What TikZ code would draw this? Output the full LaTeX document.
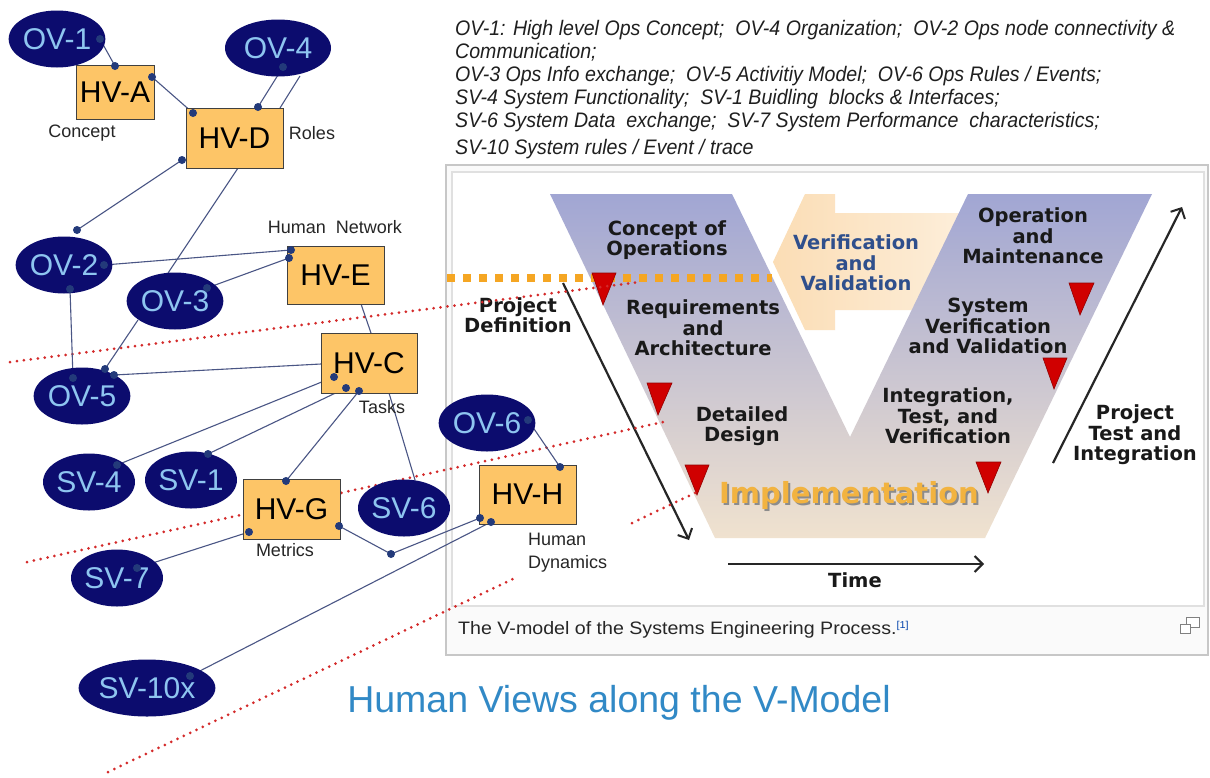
\documentclass[tikz,border=0pt]{standalone}
\usepackage{fontspec}
\setmainfont{Liberation Sans}
\newfontfamily\vfont{DejaVu Sans}
\newfontfamily\nfont{Liberation Sans}[FakeStretch=0.932]
\newfontfamily\cfont{Liberation Sans}[FakeStretch=1.09]
\usetikzlibrary{arrows.meta,shapes.geometric}
\definecolor{navy}{HTML}{0C0C6E}
\definecolor{ovtext}{HTML}{8EC5F0}
\definecolor{hvfill}{HTML}{FDC567}
\definecolor{connc}{HTML}{4A5685}
\definecolor{dotc}{HTML}{233A7A}
\definecolor{vtop}{HTML}{A1A6D3}
\definecolor{vmid}{HTML}{C9C2D3}
\definecolor{vbot}{HTML}{F0E2CF}
\definecolor{peachA}{HTML}{FBDDB5}
\definecolor{peachB}{HTML}{FDF0DE}
\definecolor{vvblue}{HTML}{2F4F8C}
\definecolor{tri}{HTML}{D00000}
\definecolor{titleblue}{HTML}{3189C6}
\definecolor{orangedot}{HTML}{F5A623}
\definecolor{reddot}{HTML}{D42A2A}
\definecolor{gold}{HTML}{F2B340}
\definecolor{linkblue}{HTML}{0645AD}
\tikzset{
  ov/.style={ellipse, fill=navy, text=ovtext, inner sep=0pt, minimum width=88pt, minimum height=57pt, font=\fontsize{30}{30}\selectfont},
  hv/.style={rectangle, fill=hvfill, draw=black!75, line width=0.8pt, inner sep=0pt, font=\fontsize{30}{30}\selectfont},
  lbl/.style={font=\fontsize{18}{23}\selectfont, text=black!85, inner sep=0pt},
  conn/.style={draw=connc, line width=1.1pt},
  dotn/.style={circle, fill=dotc, inner sep=0pt, minimum size=8pt},
  reddots/.style={draw=reddot, line width=3pt, dash pattern=on 0pt off 7pt, line cap=round},
  vlab/.style={font=\vfont\bfseries\fontsize{19.5}{20.5}\selectfont, align=center, text=black!90, inner sep=0pt},
  tritri/.style={fill=tri, draw=tri!70!black, line width=0.6pt},
  topline/.style={anchor=base west, inner sep=0pt, font=\nfont\itshape\fontsize{21}{24}\selectfont, text=black!88},
  barrow/.style={draw=black!85, line width=2.2pt, -{Straight Barb[length=8pt,width=16pt,line width=2pt]}},
}
\begin{document}
\begin{tikzpicture}[x=1pt,y=-1pt]
\useasboundingbox (0,0) rectangle (1210,777);
\fill[white] (0,0) rectangle (1210,777);

% ---------- V-model picture ----------
\draw[draw=black!22, fill=black!2, line width=1.5pt] (446,165) rectangle (1208,655);
\draw[draw=black!12, fill=white, line width=1.5pt] (452,172) rectangle (1204,606);
% V&V arrow
\shade[left color=peachA, right color=peachB]
  (773,262) -- (805,194) -- (835,194) -- (835,213) -- (985,213) -- (985,310)
  -- (835,310) -- (835,330) -- (805,330) -- cycle;
% V shape
\shade[top color=vtop, middle color=vmid, bottom color=vbot]
  (550,194) -- (732,194) -- (850,437) -- (968,194) -- (1152,194) -- (985,538) -- (715,538) -- cycle;
% orange dotted line
\draw[orangedot, line width=8pt, dash pattern=on 8pt off 8pt] (447,278) -- (772,278);
% red triangles
\fill[tritri] (592,273) -- (616,273) -- (603,305) -- cycle;
\fill[tritri] (647,383) -- (672,383) -- (658,415) -- cycle;
\fill[tritri] (685,465) -- (709,465) -- (697,495) -- cycle;
\fill[tritri] (976,462) -- (1001,462) -- (988,493) -- cycle;
\fill[tritri] (1069,283) -- (1094,283) -- (1080,315) -- cycle;
\fill[tritri] (1043,358) -- (1067,358) -- (1054,389) -- cycle;
% V texts
\node[vlab] (tconc) at (667,240) {Concept of\\Operations};
\node[vlab] (treq) at (703,328) {Requirements\\and\\Architecture};
\node[vlab] (tdd) at (742,426) {Detailed\\Design};
\node[vlab, text=vvblue] (tvv) at (856,263) {Verification\\and\\Validation};
\node[vlab] (top) at (1033,236) {Operation\\and\\Maintenance};
\node[vlab] (tsvv) at (988,326) {System\\Verification\\and Validation};
\node[vlab] (titv) at (948,416) {Integration,\\Test, and\\Verification};
\node[vlab] (tpd) at (518,315) {Project\\Definition};
\node[vlab] (tpti) at (1135,435) {Project\\Test and\\Integration};
\node[vlab] (ttime) at (855,580) {Time};
\node[font=\vfont\bfseries\fontsize{29}{30}\selectfont, text=black!45, inner sep=0pt] (implsh) at (851,497) {Implementation};
\node[font=\vfont\bfseries\fontsize{29}{30}\selectfont, text=gold, inner sep=0pt] (impl) at (849,495) {Implementation};
% arrows
\coordinate (a1s) at (563,283); \coordinate (a1e) at (689,540);
\coordinate (a2s) at (1053,463); \coordinate (a2e) at (1182,207);
\coordinate (a3s) at (728,564); \coordinate (a3e) at (984,564);
\draw[barrow] (a1s) -- (a1e);
\draw[barrow] (a2s) -- (a2e);
\draw[barrow] (a3s) -- (a3e);
% caption
\node[anchor=west, inner sep=0pt, font=\cfont\fontsize{18}{20}\selectfont, text=black!85] (cap) at (458,630)
  {The V-model of the Systems Engineering Process.\textsuperscript{\color{linkblue}\fontsize{10}{10}\selectfont[1]}};
\draw[black!50, line width=1pt, fill=white] (1186,617) rectangle (1199,627);
\draw[black!50, line width=1pt, fill=white] (1180,624) rectangle (1190,633);

% ---------- red dotted lines ----------
\coordinate (r1a) at (10,362); \coordinate (r1b) at (640,282);
\coordinate (r2a) at (27,562); \coordinate (r2b) at (663,422);
\coordinate (r3a) at (108,772); \coordinate (r3b) at (515,578);
\coordinate (r3c) at (632,523); \coordinate (r3d) at (697,492);
\draw[reddots] (r1a) -- (r1b);
\draw[reddots] (r2a) -- (r2b);
\draw[reddots] (r3a) -- (r3b);
\draw[reddots] (r3c) -- (r3d);

% ---------- dots (positions) ----------
\coordinate (d1) at (100,39);  \coordinate (d2) at (115,66);
\coordinate (d3) at (152,77);  \coordinate (d4) at (193,113);
\coordinate (d5) at (283,67);  \coordinate (d6) at (258,107);
\coordinate (d7) at (182,160); \coordinate (d8) at (77,230);
\coordinate (d9) at (104,265); \coordinate (d10) at (291,250);
\coordinate (d11) at (207,288);\coordinate (d12) at (289,258);
\coordinate (d13) at (70,289); \coordinate (d14) at (73,378);
\coordinate (d15) at (105,369);\coordinate (d16) at (114,375);
\coordinate (d17) at (334,377);\coordinate (d18) at (117,465);
\coordinate (d19) at (346,388);\coordinate (d20) at (208,454);
\coordinate (d21) at (359,391);\coordinate (d22) at (286,481);
\coordinate (d23) at (249,532);\coordinate (d24) at (137,568);
\coordinate (d25) at (339,526);\coordinate (d26) at (391,554);
\coordinate (d27) at (480,518);\coordinate (d28) at (491,522);
\coordinate (d29) at (190,676);\coordinate (d30) at (528,420);
\coordinate (d31) at (560,467);
\coordinate (c1) at (300,76);  \coordinate (c2) at (280,108);
\coordinate (c3) at (238,168); \coordinate (c4) at (168,273);
\coordinate (c5) at (138,320); \coordinate (c6) at (321,364);
\coordinate (c7) at (361,304); \coordinate (c8) at (371,333);
\coordinate (c9) at (389,393); \coordinate (c10) at (415,480);

% ---------- connectors ----------
\draw[conn] (d1) -- (d2);
\draw[conn] (d3) -- (d4);
\draw[conn] (d5) -- (d6);
\draw[conn] (c1) -- (c2);
\draw[conn] (d7) -- (d8);
\draw[conn] (c3) -- (c4);
\draw[conn] (d9) -- (d10);
\draw[conn] (d11) -- (d12);
\draw[conn] (d13) -- (d14);
\draw[conn] (c5) -- (d15);
\draw[conn] (d16) -- (c6);
\draw[conn] (c7) -- (c8);
\draw[conn] (d17) -- (d18);
\draw[conn] (d19) -- (d20);
\draw[conn] (d21) -- (d22);
\draw[conn] (c9) -- (c10);
\draw[conn] (d23) -- (d24);
\draw[conn] (d25) -- (d26) -- (d27);
\draw[conn] (d28) -- (d29);
\draw[conn] (d30) -- (d31);

% ---------- nodes ----------
\node[ov] (ov1) at (57,39) {OV-1};
\node[ov, minimum width=106pt] (ov4) at (278,48) {OV-4};
\node[ov] (ov2) at (64,265) {OV-2};
\node[ov] (ov3) at (175,301) {OV-3};
\node[ov] (ov5) at (82,396) {OV-5};
\node[ov] (sv4) at (89,482) {SV-4};
\node[ov] (sv1) at (191,480) {SV-1};
\node[ov] (sv7) at (117,578) {SV-7};
\node[ov] (sv6) at (404,508) {SV-6};
\node[ov] (ov6) at (487,423) {OV-6};
\node[ov, minimum width=114pt] (sv10) at (147,688) {SV-10x};

\node[hv, minimum width=78pt, minimum height=54pt] (hva) at (115,92) {HV-A};
\node[hv, minimum width=97pt, minimum height=60pt] (hvd) at (234.5,138) {HV-D};
\node[hv, minimum width=97pt, minimum height=58pt] (hve) at (335.5,275) {HV-E};
\node[hv, minimum width=96pt, minimum height=60pt] (hvc) at (369,363) {HV-C};
\node[hv, minimum width=97pt, minimum height=60pt] (hvg) at (291.5,509) {HV-G};
\node[hv, minimum width=97pt, minimum height=59pt] (hvh) at (527.5,494.5) {HV-H};

\foreach \d in {d1,d2,d3,d4,d5,d6,d7,d8,d9,d10,d11,d12,d13,d14,d15,d16,d17,d18,d19,d20,d21,d22,d23,d24,d25,d26,d27,d28,d29,d30,d31}
  \node[dotn] (n\d) at (\d) {};

% labels
\node[lbl] (lconcept) at (82,133) {Concept};
\node[lbl] (lroles) at (312,133) {Roles};
\node[lbl] (lhn) at (335,227) {Human\ \ Network};
\node[lbl] (ltasks) at (382,407) {Tasks};
\node[lbl] (lmetrics) at (285,550) {Metrics};
\node[lbl, anchor=north west, align=left] (lhd) at (528,533) {Human\\Dynamics};

% ---------- top text ----------
\node[topline] (t1) at (455,35) {\makebox[720pt][s]{OV-1: High level Ops Concept;\ \ OV-4 Organization;\ \ OV-2 Ops node connectivity \&}};
\node[topline] (t2) at (455,58) {Communication;};
\node[topline] (t3) at (455,81) {OV-3 Ops Info exchange;\ \ OV-5 Activitiy Model;\ \ OV-6 Ops Rules / Events;};
\node[topline] (t4) at (455,104) {SV-4 System Functionality;\ \ SV-1 Buidling\ \ blocks \& Interfaces;};
\node[topline] (t5) at (455,127) {SV-6 System Data\ \ exchange;\ \ SV-7 System Performance\ \ characteristics;};
\node[topline] (t6) at (455,154) {SV-10 System rules / Event / trace};

% ---------- title ----------
\node[font=\fontsize{37.5}{40}\selectfont, text=titleblue, inner sep=0pt] (title) at (619,703) {Human Views along the V-Model};
\end{tikzpicture}
\end{document}
